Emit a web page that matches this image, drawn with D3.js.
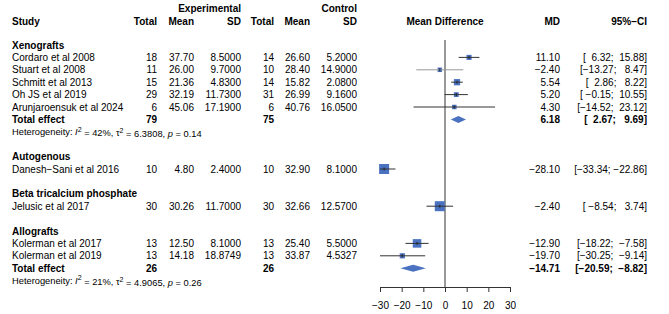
<!DOCTYPE html>
<html>
<head>
<meta charset="utf-8">
<script src="https://cdn.jsdelivr.net/npm/d3@7"></script>
<style>
  body { margin: 0; background: #fff; }
  svg text { font-family: "Liberation Sans", Arial, sans-serif; white-space: pre; }
</style>
</head>
<body>
<div id="forest"></div>
<script>
// subgroups
const groups = ["Xenografts", "Autogenous", "Beta tricalcium phosphate", "Allografts"];

// studies
const studies = ["Cordaro et al 2008", "Stuart et al 2008", "Schmitt et al 2013", "Oh JS et al 2019",
  "Arunjaroensuk et al 2024", "Danesh\u2212Sani et al 2016", "Jelusic et al 2017",
  "Kolerman et al 2017", "Kolerman et al 2019"];
const studyGroup = [0, 0, 0, 0, 0, 1, 2, 3, 3];
const totalE = [18, 11, 15, 29, 6, 10, 30, 13, 13];
const meanE = [37.70, 26.00, 21.36, 32.19, 45.06, 4.80, 30.26, 12.50, 14.18];
const sdE = [8.5, 9.7, 4.83, 11.73, 17.19, 2.4, 11.7, 8.1, 18.8749];
const totalC = [14, 10, 14, 31, 6, 10, 30, 13, 13];
const meanC = [26.60, 28.40, 15.82, 26.99, 40.76, 32.90, 32.66, 25.40, 33.87];
const sdC = [5.2, 14.9, 2.08, 9.16, 16.05, 8.1, 12.57, 5.5, 4.5327];
const md = [11.10, -2.40, 5.54, 5.20, 4.30, -28.10, -2.40, -12.90, -19.70];
const lower = [6.32, -13.27, 2.86, -0.15, -14.52, -33.34, -8.54, -18.22, -30.25];
const upper = [15.88, 8.47, 8.22, 10.55, 23.12, -22.86, 3.74, -7.58, -9.14];
const weight = [26, 8.7, 39, 23, 3.3, 100, 100, 73, 27]; // % within subgroup

// subgroup pooled results (null = single study)
const groupTotalE = [79, null, null, 26];
const groupTotalC = [75, null, null, 26];
const groupMD = [6.18, null, null, -14.71];
const groupLower = [2.67, null, null, -20.59];
const groupUpper = [9.69, null, null, -8.82];
const hetI2 = [42, null, null, 21];
const hetTau2 = [6.3808, null, null, 4.9065];
const hetP = [0.14, null, null, 0.26];

const xTicks = [-30, -20, -10, 0, 10, 20, 30];

const width = 669, height = 314;
const svg = d3.select("#forest").append("svg")
  .attr("width", width).attr("height", height);

const minus = s => s.replace(/-/g, "\u2212");
const f2 = v => minus(v.toFixed(2));
const f4 = v => v.toFixed(4);
const pad = (s, n) => " ".repeat(Math.max(0, n - s.length)) + s;
const ciText = (lo, hi) => "[" + pad(f2(lo), 6) + "; " + pad(f2(hi), 6) + "]";

// build row list
let rows = [];
groups.forEach((g, gi) => {
  rows.push({ type: "group", label: g });
  studies.forEach((s, i) => {
    if (studyGroup[i] == gi) rows.push({ type: "study", i: i });
  });
  if (groupMD[gi] != null) {
    rows.push({ type: "total", gi: gi });
    rows.push({ type: "het", gi: gi });
  }
  rows.push({ type: "blank" });
});
rows.forEach((r, k) => r.k = k);

const y = d3.scaleLinear().domain([0, 19]).range([45, 280.6]);
const x = d3.scaleLinear().domain([-30, 30]).range([380, 510]);
const size = d3.scaleSqrt().domain([0, 100]).range([0, 10]);

// column right edges
const col = { study: 12, nE: 157, mE: 194, sE: 241, nC: 274, mC: 310, sC: 357, md: 560, ci: 647 };

function txt(xp, yp, s, anchor, bold, fs) {
  return svg.append("text")
    .attr("x", xp).attr("y", yp)
    .attr("dy", "0.35em")
    .attr("text-anchor", anchor || "end")
    .attr("font-size", fs || 10)
    .attr("font-weight", bold ? "bold" : "normal")
    .attr("fill", "#000")
    .text(s);
}

// headers
txt(col.sE, 8, "Experimental", "end", true);
txt(col.sC, 8, "Control", "end", true);
txt(col.study, 21, "Study", "start", true);
txt(col.nE, 21, "Total", "end", true);
txt(col.mE, 21, "Mean", "end", true);
txt(col.sE, 21, "SD", "end", true);
txt(col.nC, 21, "Total", "end", true);
txt(col.mC, 21, "Mean", "end", true);
txt(col.sC, 21, "SD", "end", true);
txt(x(0), 21, "Mean Difference", "middle", true);
txt(col.md, 21, "MD", "end", true);
txt(col.ci, 21, "95%\u2212CI", "end", true);

// zero line
svg.append("line")
  .attr("x1", x(0)).attr("x2", x(0))
  .attr("y1", 40).attr("y2", 287)
  .attr("stroke", "#333").attr("stroke-width", 1);

const blue = "#4a72c0";

rows.forEach(r => {
  const yy = y(r.k);
  if (r.type == "group") {
    txt(col.study, yy, r.label, "start", true);
  } else if (r.type == "study") {
    const i = r.i;
    txt(col.study, yy, studies[i], "start");
    txt(col.nE, yy, totalE[i]);
    txt(col.mE, yy, meanE[i].toFixed(2));
    txt(col.sE, yy, f4(sdE[i]));
    txt(col.nC, yy, totalC[i]);
    txt(col.mC, yy, meanC[i].toFixed(2));
    txt(col.sC, yy, f4(sdC[i]));
    txt(col.md, yy, f2(md[i]));
    txt(col.ci, yy, ciText(lower[i], upper[i]));
    const s = Math.max(4.5, size(weight[i]));
    svg.append("rect")
      .attr("x", x(md[i]) - s / 2).attr("y", yy - s / 2)
      .attr("width", s).attr("height", s)
      .attr("fill", blue);
    svg.append("line")
      .attr("x1", x(Math.max(-30, lower[i]))).attr("x2", x(Math.min(30, upper[i])))
      .attr("y1", yy).attr("y2", yy)
      .attr("stroke", i == 1 ? "#999" : "#333").attr("stroke-width", 1);
    svg.append("line")
      .attr("x1", x(md[i])).attr("x2", x(md[i]))
      .attr("y1", yy - 1.5).attr("y2", yy + 1.5)
      .attr("stroke", "#222").attr("stroke-width", 1);
  } else if (r.type == "total") {
    const gi = r.gi;
    txt(col.study, yy, "Total effect", "start", true);
    txt(col.nE, yy, groupTotalE[gi], "end", true);
    txt(col.nC, yy, groupTotalC[gi], "end", true);
    txt(col.md, yy, f2(groupMD[gi]), "end", true);
    txt(col.ci, yy, ciText(groupLower[gi], groupUpper[gi]), "end", true);
    const h = 3.5;
    svg.append("path")
      .attr("d", d3.line()([
        [x(groupLower[gi]), yy], [x(groupMD[gi]), yy - h],
        [x(groupUpper[gi]), yy], [x(groupMD[gi]), yy + h]
      ]) + "Z")
      .attr("fill", blue);
  } else if (r.type == "het") {
    const gi = r.gi;
    const t = txt(col.study, yy, "", "start", false, 9.3);
    t.append("tspan").text("Heterogeneity: ");
    t.append("tspan").attr("font-style", "italic").text("I");
    t.append("tspan").attr("font-size", 7).attr("dy", "-0.5em").text("2");
    t.append("tspan").attr("dy", "0.5em").text(" = " + hetI2[gi] + "%, \u03c4");
    t.append("tspan").attr("font-size", 7).attr("dy", "-0.5em").text("2");
    t.append("tspan").attr("dy", "0.5em").text(" = " + f4(hetTau2[gi]) + ", ");
    t.append("tspan").attr("font-style", "italic").text("p");
    t.append("tspan").text(" = " + hetP[gi]);
  }
});

// x axis
const axis = svg.append("g")
  .attr("transform", "translate(0,287)")
  .call(d3.axisBottom(x).tickValues(xTicks).tickSize(5).tickPadding(9.5).tickSizeOuter(0));
axis.select(".domain").attr("stroke", "#333");
axis.selectAll(".tick line").attr("stroke", "#333");
axis.selectAll("text").attr("font-size", 10).attr("fill", "#000")
  .attr("font-family", "Liberation Sans, Arial, sans-serif");
</script>
</body>
</html>
